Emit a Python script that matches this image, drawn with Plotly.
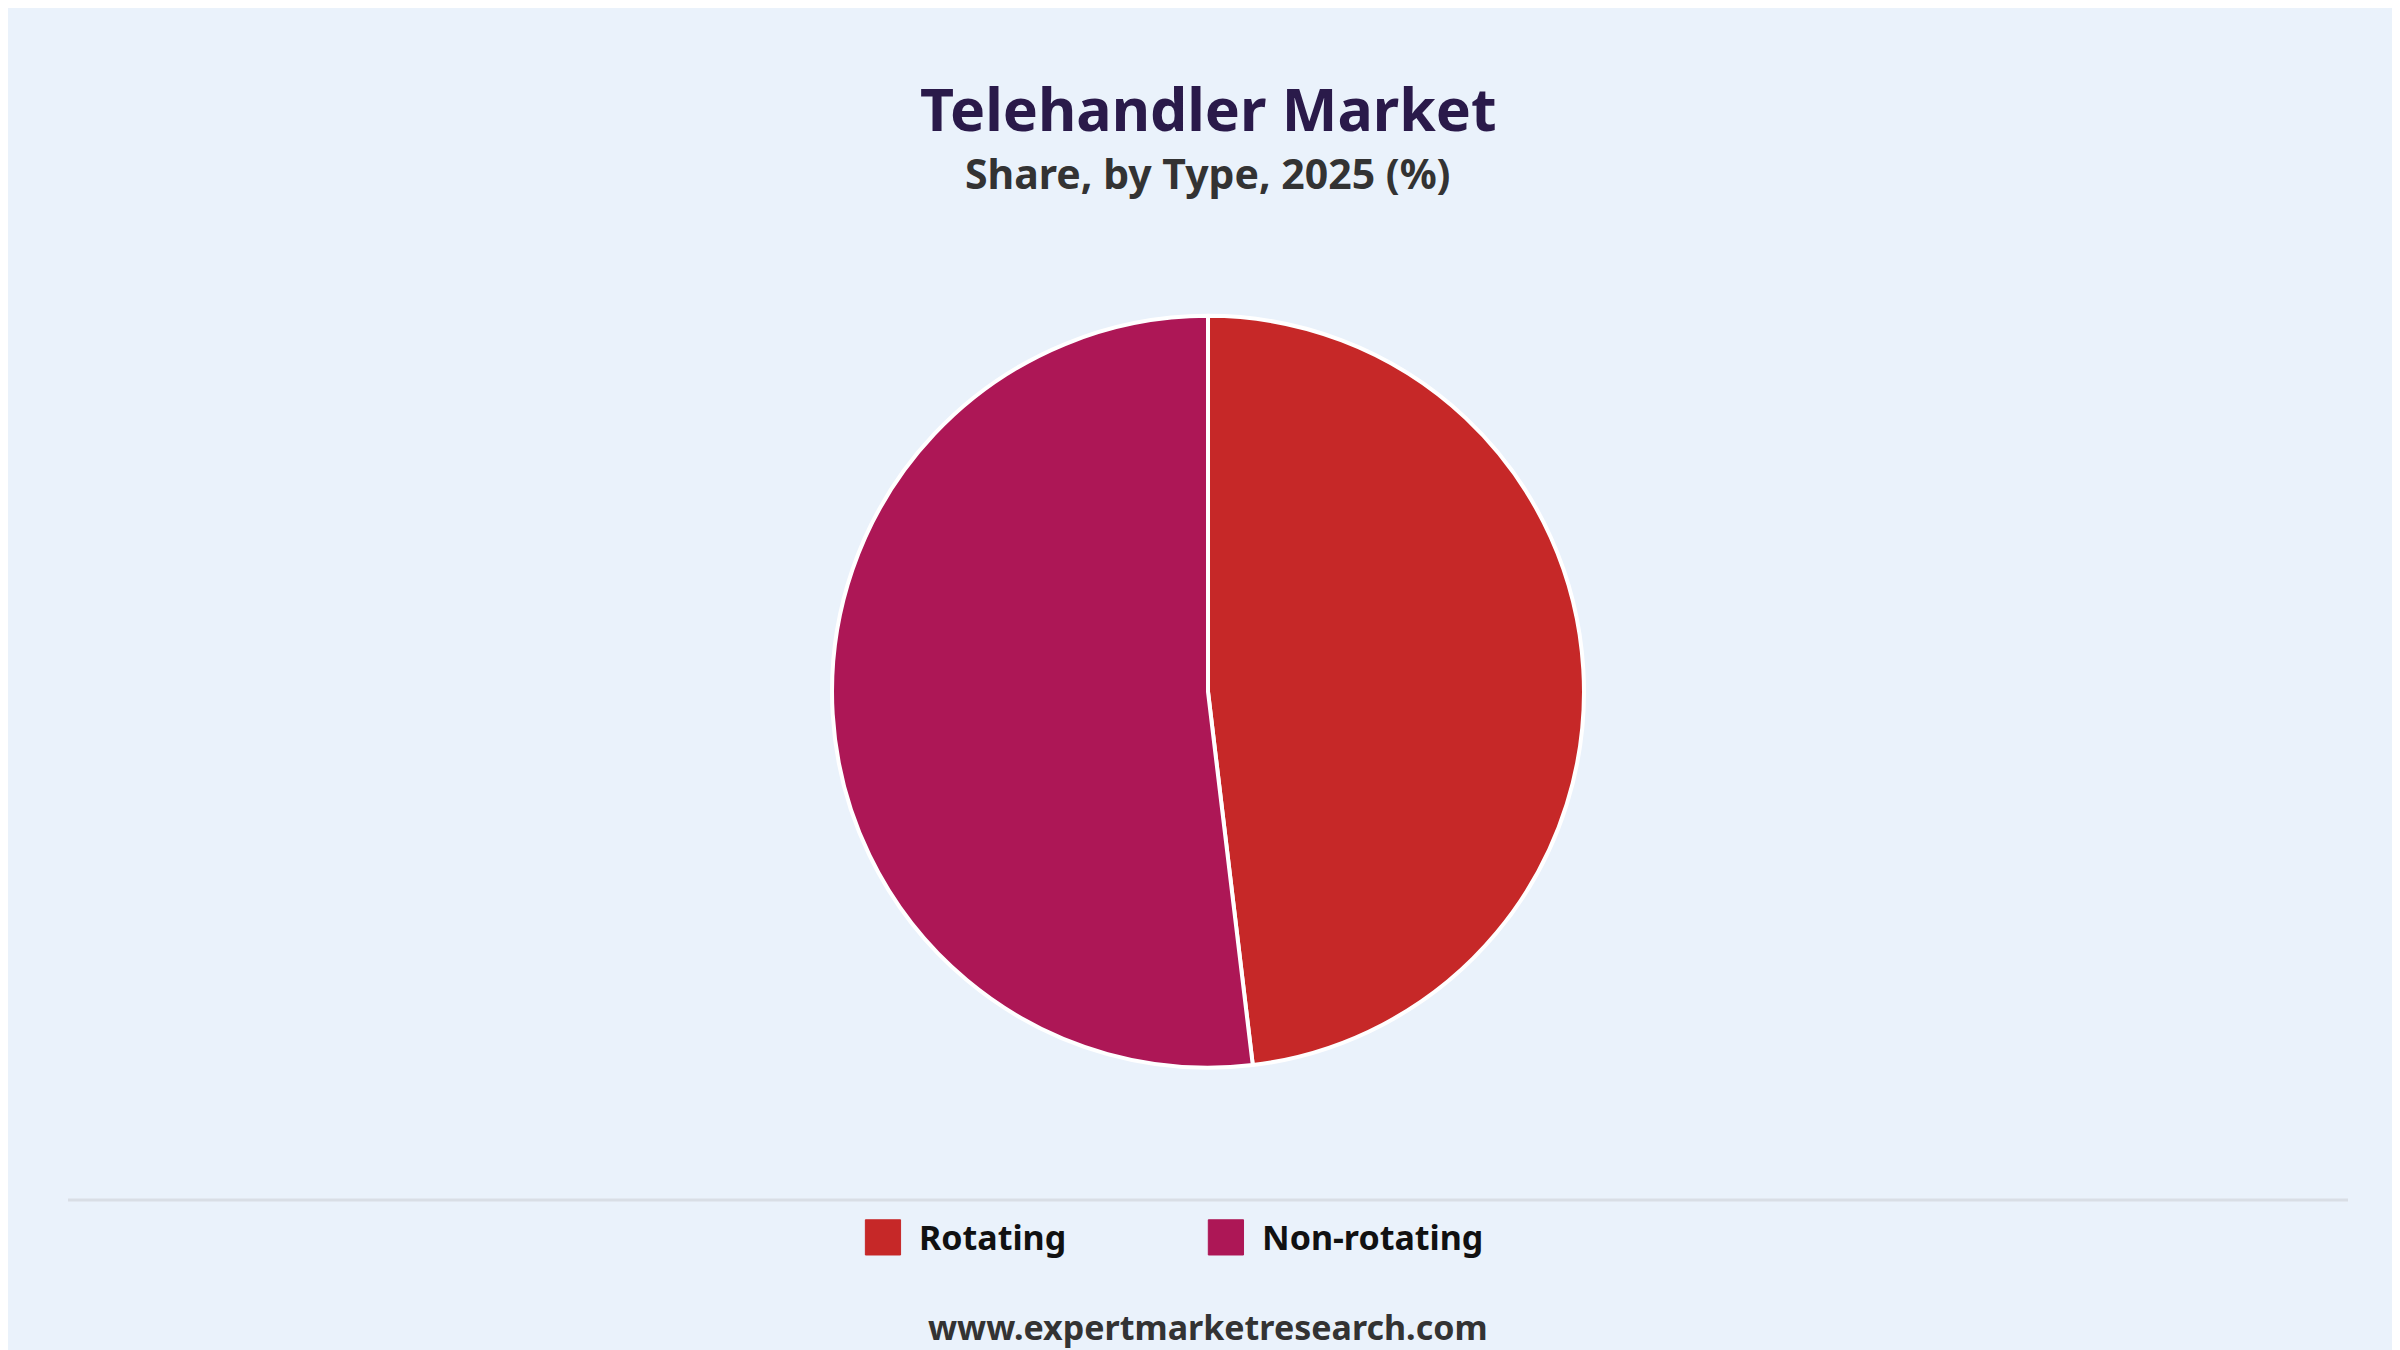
import plotly.graph_objects as go

labels = ["Rotating", "Non-rotating"]
values = [48.1, 51.9]
colors = ["#C62828", "#AD1756"]

fig = go.Figure(go.Pie(
    labels=labels, values=values, sort=False, direction="clockwise", rotation=0,
    marker=dict(colors=colors, line=dict(color="white", width=4)),
    textinfo="none", hoverinfo="label+percent",
    domain=dict(x=[0.3, 0.7], y=[0.215, 0.772]),
))

S = 1.531
W, H = 2400, 1350
shapes = [dict(type="line", xref="paper", yref="paper", x0=0.025, x1=0.975,
               y0=1 - 1192/H, y1=1 - 1192/H, line=dict(color="#D9DEE5", width=3))]
annotations = [
    dict(text="<b>Telehandler Market</b>", x=0.5, y=1 - 100/H, xref="paper", yref="paper",
         showarrow=False, font=dict(size=59, color="#2A1A4A", family="Noto Sans"), yanchor="middle"),
    dict(text="<b>Share, by Type, 2025 (%)</b>", x=0.5, y=1 - 165/H, xref="paper", yref="paper",
         showarrow=False, font=dict(size=41, color="#333333", family="Noto Sans"), yanchor="middle"),
    dict(text="<b>www.expertmarketresearch.com</b>", x=0.5, y=1 - 1319/H, xref="paper", yref="paper",
         showarrow=False, font=dict(size=34, color="#333333", family="Noto Sans"), yanchor="middle"),
]
legend_x = [560, 784]
ly = 803 * S
for lab, col, lx in zip(labels, colors, legend_x):
    x0 = lx * S
    shapes.append(dict(type="rect", xref="paper", yref="paper",
                       x0=x0/W, x1=(x0 + 23*S)/W, y0=1 - (ly - 11.5*S)/H, y1=1 - (ly + 11.5*S)/H,
                       fillcolor=col, line=dict(color=col, width=1)))
    annotations.append(dict(text=f"<b>{lab}</b>", x=(x0 + 34*S)/W, y=1 - ly/H, xref="paper", yref="paper",
                            xanchor="left", yanchor="middle", showarrow=False,
                            font=dict(size=34, color="#111111", family="Noto Sans")))

fig.update_layout(
    width=W, height=H, paper_bgcolor="#EAF2FB", plot_bgcolor="#EAF2FB",
    margin=dict(l=0, r=0, t=0, b=0),
    font=dict(family="Noto Sans", color="#111"),
    showlegend=False, shapes=shapes, annotations=annotations,
)
fig.write_html("out.html")
